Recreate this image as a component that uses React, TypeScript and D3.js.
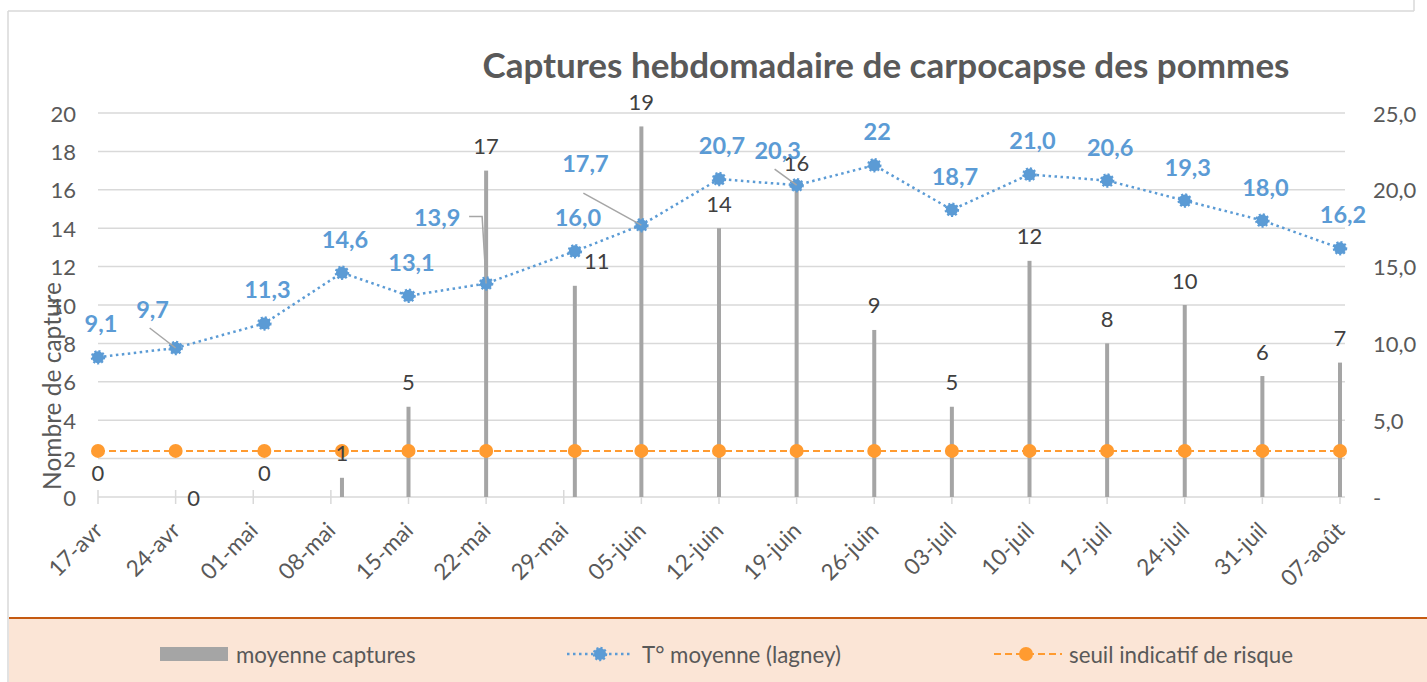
import React from 'react';
import * as d3 from 'd3';

// sample dates (some readings were taken a day after the weekly tick)
const sampleDates = [
  '2023-04-17', '2023-04-24', '2023-05-02', '2023-05-09', '2023-05-15', '2023-05-22',
  '2023-05-30', '2023-06-05', '2023-06-12', '2023-06-19', '2023-06-26', '2023-07-03',
  '2023-07-10', '2023-07-17', '2023-07-24', '2023-07-31', '2023-08-07',
];
const captures = [0, 0, 0, 1, 4.7, 17, 11, 19.3, 14, 16.1, 8.7, 4.7, 12.3, 8, 10, 6.3, 7];
const temperatures = [9.1, 9.7, 11.3, 14.6, 13.1, 13.9, 16.0, 17.7, 20.7, 20.3, 21.6, 18.7, 21.0, 20.6, 19.3, 18.0, 16.2];
const temperatureLabels = ['9,1', '9,7', '11,3', '14,6', '13,1', '13,9', '16,0', '17,7', '20,7', '20,3', '22', '18,7', '21,0', '20,6', '19,3', '18,0', '16,2'];
const seuil = 3;
const axisStart = '2023-04-17';
const axisEnd = '2023-08-07';
const leftTicks = d3.range(0, 21, 2);
const rightTicks = [0, 5, 10, 15, 20, 25];

const W = 1427;
const H = 682;
const FONT = 'Lato, "Open Sans", sans-serif';
const GREY_TXT = '#595959';
const GRID = '#D9D9D9';
const BLUE = '#5B9BD5';
const ORANGE = '#FF9B30';
const BAR = '#A5A5A5';

// manual label moves, as in the original chart
const tempNudge: Record<number, { dx: number; dy: number; leader?: [number, number][] }> = {
  1: { dx: -23, dy: -39, leader: [[-3, 19]] },
  5: { dx: -49, dy: -66, leader: [[32, -1], [45, -1]] },
  7: { dx: -56, dy: -62, leader: [[-2, 30]] },
  9: { dx: -19, dy: -35, leader: [[-3, 19]] },
};
const barNudge: Record<number, { dx: number; dy: number }> = {
  1: { dx: 18, dy: 25 },
  6: { dx: 22, dy: 0 },
};

const parse = d3.timeParse('%Y-%m-%d');
const frLocale = d3.timeFormatLocale({
  dateTime: '%A %e %B %Y à %X',
  date: '%d/%m/%Y',
  time: '%H:%M:%S',
  periods: ['AM', 'PM'],
  days: ['dimanche', 'lundi', 'mardi', 'mercredi', 'jeudi', 'vendredi', 'samedi'],
  shortDays: ['dim', 'lun', 'mar', 'mer', 'jeu', 'ven', 'sam'],
  months: ['janvier', 'février', 'mars', 'avril', 'mai', 'juin', 'juillet', 'août', 'septembre', 'octobre', 'novembre', 'décembre'],
  shortMonths: ['janv', 'févr', 'mars', 'avr', 'mai', 'juin', 'juil', 'août', 'sept', 'oct', 'nov', 'déc'],
});
const fmtDate = frLocale.format('%d-%b');
const numLocale = d3.formatLocale({ decimal: ',', thousands: ' ', grouping: [3], currency: ['', '€'] });
const fmtRight = (d: number) => (d === 0 ? '-' : numLocale.format('.1f')(d));

const App: React.FC = () => {
  const start = parse(axisStart)!;
  const end = parse(axisEnd)!;
  const x = d3.scaleTime().domain([start, end]).range([98, 1340]);
  const plotRight = 1345;
  const yL = d3.scaleLinear().domain([0, 20]).range([497, 113]);
  const yR = d3.scaleLinear().domain([0, 25]).range([497, 113]);
  const dates = sampleDates.map(d => parse(d)!);
  const weekTicks = d3.timeDay.range(start, d3.timeDay.offset(end, 1), 7);

  const tempLine = d3.line<number>()
    .x((_, i) => x(dates[i]))
    .y(d => yR(d));
  const seuilLine = d3.line<Date>()
    .x(d => x(d))
    .y(() => yR(seuil));

  const base = yL(0);

  return (
    <svg width={W} height={H} style={{ position: 'absolute', left: 0, top: 0, background: '#fff' }}
      fontFamily={FONT}>
      {/* chart frame */}
      <line x1={8} x2={1414} y1={11} y2={11} stroke={GRID} strokeWidth={1.5} />
      <line x1={8} x2={8} y1={11} y2={H} stroke={GRID} strokeWidth={1.5} />
      <line x1={1414} x2={1414} y1={0} y2={11} stroke={GRID} strokeWidth={1.5} />

      <text x={886} y={78} textAnchor="middle" fontSize={35} fontWeight={700} fill={GREY_TXT}>
        Captures hebdomadaire de carpocapse des pommes
      </text>

      {/* grid */}
      {leftTicks.map(t => (
        <line key={t} x1={98} x2={plotRight} y1={yL(t)} y2={yL(t)} stroke={GRID} strokeWidth={1.5} />
      ))}
      {weekTicks.map((d, i) => (
        <line key={i} x1={x(d)} x2={x(d)} y1={base - 7} y2={base + 7} stroke={GRID} strokeWidth={1.5} />
      ))}

      {/* left axis */}
      {leftTicks.map(t => (
        <text key={t} x={76} y={yL(t)} textAnchor="end" dominantBaseline="central" fontSize={22} fill={GREY_TXT}>
          {t}
        </text>
      ))}
      {/* right axis */}
      {rightTicks.map(t => (
        <text key={t} x={1373} y={yR(t)} textAnchor="start" dominantBaseline="central" fontSize={22} fill={GREY_TXT}>
          {fmtRight(t)}
        </text>
      ))}
      <text transform="translate(51,386) rotate(-90)" textAnchor="middle" dominantBaseline="central"
        fontSize={24.5} fill={GREY_TXT}>
        Nombre de capture
      </text>

      {/* x labels */}
      {weekTicks.map((d, i) => (
        <text key={i} transform={`translate(${x(d) + 6},${base + 35}) rotate(-45)`} textAnchor="end"
          fontSize={22.5} fill={GREY_TXT}>
          {fmtDate(d)}
        </text>
      ))}

      {/* bars */}
      {captures.map((v, i) => (
        <rect key={i} x={x(dates[i]) - 2} width={4} y={yL(v)} height={base - yL(v)} fill={BAR} />
      ))}

      {/* seuil */}
      <path d={seuilLine(dates) ?? ''} fill="none" stroke={ORANGE} strokeWidth={2} strokeDasharray="7 4" />
      {dates.map((d, i) => (
        <circle key={i} cx={x(d)} cy={yR(seuil)} r={7} fill={ORANGE} />
      ))}

      {/* temperatures */}
      <path d={tempLine(temperatures) ?? ''} fill="none" stroke={BLUE} strokeWidth={2.5} strokeDasharray="2.5 3.5" />
      {temperatures.map((v, i) => (
        <circle key={i} cx={x(dates[i])} cy={yR(v)} r={6} fill={BLUE} stroke={BLUE} strokeWidth={2.5}
          strokeDasharray="2 2" />
      ))}

      {/* leader lines */}
      {temperatures.map((v, i) => {
        const n = tempNudge[i];
        if (!n || !n.leader) return null;
        const px = x(dates[i]);
        const py = yR(v);
        const cx = px + n.dx;
        const cy = py + n.dy;
        const pts: [number, number][] = [...n.leader.map(([a, b]) => [cx + a, cy + b] as [number, number]), [px, py]];
        return <path key={i} d={d3.line()(pts) ?? ''} fill="none" stroke="#A6A6A6" strokeWidth={1.5} />;
      })}

      {/* capture labels */}
      {captures.map((v, i) => {
        const n = barNudge[i] ?? { dx: 0, dy: 0 };
        return (
          <text key={i} x={x(dates[i]) + n.dx} y={yL(v) - 25 + n.dy} textAnchor="middle" dominantBaseline="central"
            fontSize={22} fill="#404040">
            {d3.format('.0f')(v)}
          </text>
        );
      })}

      {/* temperature labels */}
      {temperatures.map((v, i) => {
        const n = tempNudge[i] ?? { dx: 3, dy: -34 };
        return (
          <text key={i} x={x(dates[i]) + n.dx} y={yR(v) + n.dy} textAnchor="middle" dominantBaseline="central"
            fontSize={23.5} fontWeight={700} fill={BLUE}>
            {temperatureLabels[i]}
          </text>
        );
      })}

      {/* legend */}
      <rect x={9} y={618} width={W - 9} height={H - 618} fill="#FBE5D6" />
      <line x1={9} x2={W} y1={618} y2={618} stroke="#C55A11" strokeWidth={2} />
      <rect x={160} y={647} width={68} height={14} fill={BAR} />
      <text x={236} y={654} dominantBaseline="central" fontSize={22.3} fill={GREY_TXT}>moyenne captures</text>
      <line x1={567} x2={631} y1={654} y2={654} stroke={BLUE} strokeWidth={2.5} strokeDasharray="2.5 3.5" />
      <circle cx={600} cy={654} r={6} fill={BLUE} stroke={BLUE} strokeWidth={2.5} strokeDasharray="2 2" />
      <text x={642} y={654} dominantBaseline="central" fontSize={22.3} fill={GREY_TXT}>T° moyenne (lagney)</text>
      <line x1={994} x2={1062} y1={654} y2={654} stroke={ORANGE} strokeWidth={2} strokeDasharray="7 4" />
      <circle cx={1026} cy={654} r={7} fill={ORANGE} />
      <text x={1069} y={654} dominantBaseline="central" fontSize={22.3} fill={GREY_TXT}>seuil indicatif de risque</text>
    </svg>
  );
};

export default App;
